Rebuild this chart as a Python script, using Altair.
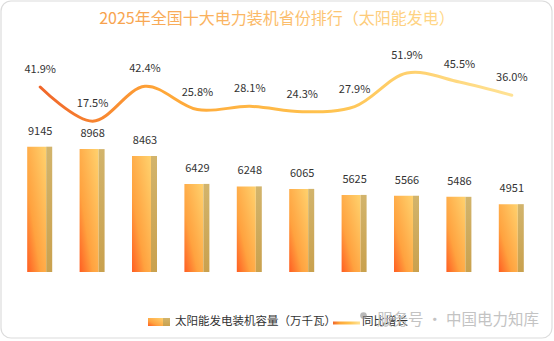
import altair as alt
import pandas as pd

# ---------------- data ----------------
provinces = ["天津", "河北", "山西", "内蒙古", "辽宁", "吉林", "黑龙江", "上海", "江苏", "浙江"]
capacity = [9145, 8968, 8463, 6429, 6248, 6065, 5625, 5566, 5486, 4951]
growth = [41.9, 17.5, 42.4, 25.8, 28.1, 24.3, 27.9, 51.9, 45.5, 36.0]
growth_labels = [f"{g:.1f}%" for g in growth]

title_text = "2025年全国十大电力装机省份排行（太阳能发电）"
legend_bar_text = "太阳能发电装机容量（万千瓦）"
legend_line_text = "同比增长"
watermark_text = "服务号 · 中国电力知库"

df = pd.DataFrame({"province": provinces, "capacity": capacity,
                   "growth": growth, "glabel": growth_labels})
one = pd.DataFrame({"k": [0]})

FONT = "Noto Sans CJK SC"
W, H = 524, 232

bar_grad = alt.Gradient(
    gradient="linear", x1=0, y1=1, x2=1, y2=0,
    stops=[alt.GradientStop(color="#FF5E22", offset=0),
           alt.GradientStop(color="#FFA23F", offset=0.35),
           alt.GradientStop(color="#FFD26E", offset=1)])
side_grad = alt.Gradient(
    gradient="linear", x1=0, y1=0, x2=0, y2=1,
    stops=[alt.GradientStop(color="#D2B46C", offset=0),
           alt.GradientStop(color="#C9A14E", offset=1)])
line_grad = alt.Gradient(
    gradient="linear", x1=0, y1=0, x2=1, y2=0,
    stops=[alt.GradientStop(color="#F0662A", offset=0),
           alt.GradientStop(color="#FFA637", offset=0.25),
           alt.GradientStop(color="#FFC24E", offset=0.6),
           alt.GradientStop(color="#FFE294", offset=1)])
title_grad = alt.Gradient(
    gradient="linear", x1=0, y1=0, x2=1, y2=0,
    stops=[alt.GradientStop(color="#F7A04C", offset=0),
           alt.GradientStop(color="#FFD98A", offset=1)])

x_axis = alt.X("province:N", sort=provinces, title=None,
               scale=alt.Scale(paddingInner=0, paddingOuter=0),
               axis=alt.Axis(labelFont=FONT, labelFontSize=12, labelColor="#333333",
                             labelAngle=0, domainColor="#d9d9d9", tickColor="#d9d9d9",
                             tickSize=4, labelPadding=4, tickBand="extent", grid=False))
x_noaxis = alt.X("province:N", sort=provinces, axis=None)

y_bar = alt.Y("capacity:Q", scale=alt.Scale(domain=[0, 16930], nice=False, zero=True), axis=None)
y_line = alt.Y("growth:Q", scale=alt.Scale(domain=[-90.2, 75.5], nice=False, zero=False), axis=None)

base = alt.Chart(df)

front = base.mark_bar(width=19, xOffset=-3.5, color=bar_grad).encode(x=x_axis, y=y_bar)
side = base.mark_bar(width=6, xOffset=9, color=side_grad).encode(x=x_noaxis, y=y_bar)
bar_labels = base.mark_text(dy=-15, font=FONT, fontSize=11, color="#333333").encode(
    x=x_noaxis, y=y_bar, text="capacity:Q")

line = base.mark_line(interpolate="catmull-rom", strokeWidth=3, strokeCap="round",
                      color=line_grad).encode(x=x_noaxis, y=y_line)
line_labels = base.mark_text(dy=-17, font=FONT, fontSize=11, color="#333333").encode(
    x=x_noaxis, y=y_line, text="glabel:N")

dec = alt.Chart(one)
border = dec.mark_rect(fill="white", fillOpacity=0, stroke="#dcdcdc", strokeWidth=1.2,
                       cornerRadius=10).encode(
    x=alt.value(-13), x2=alt.value(538), y=alt.value(-39), y2=alt.value(298))
title = dec.mark_text(text=title_text, font=FONT, fontSize=16, color=title_grad,
                      align="center", baseline="middle").encode(
    x=alt.value(263), y=alt.value(-21))
leg_front = dec.mark_rect(color=bar_grad).encode(
    x=alt.value(134), x2=alt.value(149), y=alt.value(278), y2=alt.value(286))
leg_side = dec.mark_rect(color=side_grad).encode(
    x=alt.value(149), x2=alt.value(156), y=alt.value(278), y2=alt.value(286))
leg_bar_txt = dec.mark_text(text=legend_bar_text, font=FONT, fontSize=11.5, color="#333333",
                            align="left", baseline="middle").encode(
    x=alt.value(161), y=alt.value(282))
leg_line = dec.mark_rect(color=line_grad).encode(
    x=alt.value(319), x2=alt.value(346), y=alt.value(281.5), y2=alt.value(284.5))
leg_line_txt = dec.mark_text(text=legend_line_text, font=FONT, fontSize=11.5, color="#333333",
                             align="left", baseline="middle").encode(
    x=alt.value(348), y=alt.value(282))
wm_icon = dec.mark_point(shape="circle", filled=True, size=45, color="#8a8a8a",
                         opacity=0.6).encode(x=alt.value(349.5), y=alt.value(275.5))
wm = dec.mark_text(text=watermark_text, font=FONT, fontSize=15.5, color="#bdbdbd", opacity=0.9,
                   align="left", baseline="middle").encode(
    x=alt.value(363), y=alt.value(280))

chart = alt.layer(
    border, front, side, bar_labels, line, line_labels,
    title, leg_front, leg_side, leg_bar_txt, leg_line, leg_line_txt, wm_icon, wm
).resolve_scale(y="independent").properties(
    width=W, height=H,
    padding={"left": 14, "top": 40, "right": 16, "bottom": 69},
    autosize=alt.AutoSizeParams(type="none"),
    background="white",
).configure_view(stroke=None)

chart.save("out.html", embed_options={"renderer": "svg", "actions": False})
